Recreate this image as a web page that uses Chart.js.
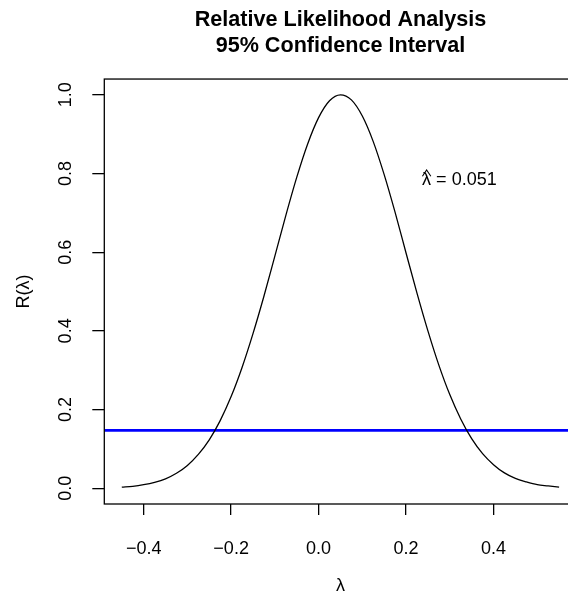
<!DOCTYPE html>
<html>
<head>
<meta charset="utf-8">
<script src="https://cdn.jsdelivr.net/npm/chart.js@4/dist/chart.umd.min.js"></script>
<style>
  html, body { margin: 0; padding: 0; background: #fff; overflow: hidden; width: 568px; height: 597px; }
  canvas { display: block; }
</style>
</head>
<body>
<canvas id="rl-chart" width="600" height="597"></canvas>
<script>
/*****************************  Data  *******************************/
var lambdaVals = [-0.45, -0.425, -0.4, -0.375, -0.35, -0.325, -0.3, -0.275, -0.25, -0.225,
                  -0.2, -0.175, -0.15, -0.125, -0.1, -0.075, -0.05, -0.025, 0.0, 0.025,
                  0.05, 0.075, 0.1, 0.125, 0.15, 0.175, 0.2, 0.225, 0.25, 0.275,
                  0.3, 0.325, 0.35, 0.375, 0.4, 0.425, 0.45, 0.475, 0.5, 0.525, 0.55];
var relLik = [0.003, 0.005, 0.009, 0.015, 0.024, 0.038, 0.058, 0.086, 0.123, 0.172,
              0.233, 0.307, 0.393, 0.488, 0.590, 0.693, 0.790, 0.875, 0.942, 0.985,
              1.000, 0.987, 0.946, 0.881, 0.797, 0.701, 0.598, 0.496, 0.400, 0.313,
              0.238, 0.176, 0.126, 0.088, 0.060, 0.039, 0.025, 0.016, 0.009, 0.006, 0.003];
var cutoff = 0.147;
var lambdaHat = 0.051;
var xRange = [-0.49, 0.59];
var yRange = [-0.04, 1.04];
var xTickVals = [-0.4, -0.2, 0.0, 0.2, 0.4];
var xTickLabels = ['\u22120.4', '\u22120.2', '0.0', '0.2', '0.4'];
var yTickVals = [0.0, 0.2, 0.4, 0.6, 0.8, 1.0];
var yTickLabels = ['0.0', '0.2', '0.4', '0.6', '0.8', '1.0'];

var FONT = '"Liberation Sans", Arial, Helvetica, sans-serif';

var curve = [];
for (var i = 0; i < lambdaVals.length; i++) {
    curve.push({x: lambdaVals[i], y: relLik[i]});
}

// R style box round the plot region, plus the lambda-hat note
var boxPlugin = {
    id: 'rbox',
    afterDraw: function(chart) {
        var ctx = chart.ctx, a = chart.chartArea;
        ctx.save();
        ctx.strokeStyle = '#000';
        ctx.lineWidth = 1.3;
        ctx.strokeRect(a.left, a.top, a.right - a.left, a.bottom - a.top);

        var x = chart.scales.x.getPixelForValue(0.322);
        var y = chart.scales.y.getPixelForValue(0.783);
        var txt = '\u03bb = ' + lambdaHat.toFixed(3);
        ctx.font = '18px ' + FONT;
        ctx.fillStyle = '#000';
        ctx.textAlign = 'center';
        ctx.textBaseline = 'middle';
        ctx.fillText(txt, x, y);
        var w = ctx.measureText(txt).width;
        var lw = ctx.measureText('\u03bb').width;
        var cx = x - w / 2 + lw / 2;
        var base = y + 5.6;
        ctx.lineWidth = 1.1;
        ctx.beginPath();
        ctx.moveTo(cx - 4.2, base - 9.5);
        ctx.lineTo(cx, base - 15.7);
        ctx.lineTo(cx + 4.2, base - 9.5);
        ctx.stroke();
        ctx.restore();
    }
};

var ctx = document.getElementById('rl-chart');
var chart = new Chart(ctx, {
    type: 'line',
    data: {
        datasets: [{
            label: 'R',
            data: curve,
            borderColor: '#000',
            borderWidth: 1.3,
            pointRadius: 0,
            cubicInterpolationMode: 'monotone',
            fill: false
        }, {
            label: 'cutoff',
            data: [{x: xRange[0], y: cutoff}, {x: xRange[1], y: cutoff}],
            borderColor: '#0000ff',
            borderWidth: 2.7,
            pointRadius: 0,
            fill: false
        }]
    },
    options: {
        responsive: false,
        animation: false,
        layout: { padding: { left: 0, right: 23.4, top: 0, bottom: 0 } },
        plugins: {
            legend: { display: false },
            tooltip: { enabled: false },
            title: {
                display: true,
                fullSize: false,
                text: ['Relative Likelihood Analysis', '95% Confidence Interval'],
                color: '#000',
                font: { family: FONT, size: 21.6, weight: 'bold', lineHeight: 1.2 },
                padding: { top: 7, bottom: 20.2 }
            }
        },
        scales: {
            x: {
                type: 'linear',
                min: xRange[0],
                max: xRange[1],
                afterBuildTicks: function(s) {
                    s.ticks = xTickVals.map(function(v) { return {value: v}; });
                },
                afterFit: function(s) { s.height = 93; },
                ticks: {
                    autoSkip: false,
                    maxRotation: 0,
                    color: '#000',
                    font: { family: FONT, size: 18 },
                    padding: 23.7,
                    callback: function(v, i) { return xTickLabels[i]; }
                },
                grid: { drawOnChartArea: false, drawTicks: true, tickLength: 11, color: '#000', lineWidth: 1.3 },
                border: { display: false },
                title: {
                    display: true,
                    text: '\u03bb',
                    color: '#000',
                    font: { family: FONT, size: 18 },
                    padding: { top: 0, bottom: 0 }
                }
            },
            y: {
                type: 'linear',
                min: yRange[0],
                max: yRange[1],
                afterBuildTicks: function(s) {
                    s.ticks = yTickVals.map(function(v) { return {value: v}; });
                },
                afterFit: function(s) { s.width = 104.3; },
                ticks: {
                    autoSkip: false,
                    minRotation: 90,
                    maxRotation: 90,
                    crossAlign: 'center',
                    color: '#000',
                    font: { family: FONT, size: 18 },
                    padding: 14,
                    callback: function(v, i) { return yTickLabels[i]; }
                },
                grid: { drawOnChartArea: false, drawTicks: true, tickLength: 12, color: '#000', lineWidth: 1.3 },
                border: { display: false },
                title: {
                    display: true,
                    text: 'R(\u03bb)',
                    color: '#000',
                    font: { family: FONT, size: 18 },
                    padding: { top: 13, bottom: 0 }
                }
            }
        }
    },
    plugins: [boxPlugin]
});
</script>
</body>
</html>
